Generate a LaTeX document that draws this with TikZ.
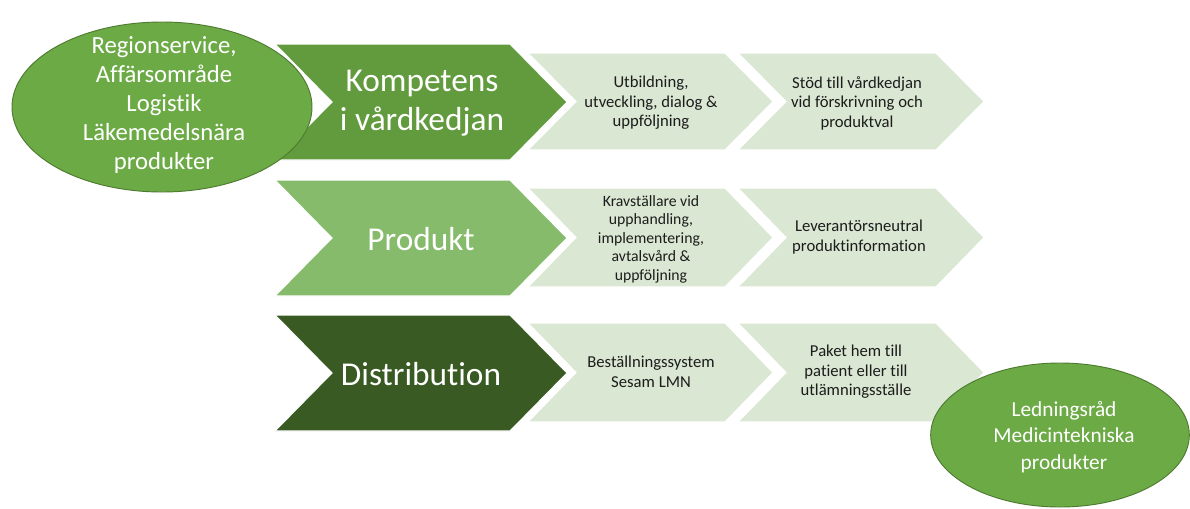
\documentclass[tikz,border=0pt]{standalone}
\usepackage{fontspec}
\setmainfont{Carlito}[Ligatures={NoCommon}]
\usetikzlibrary{shapes.geometric}
\definecolor{gA}{HTML}{629B3E}
\definecolor{gB}{HTML}{86BB6B}
\definecolor{gC}{HTML}{3A5A24}
\definecolor{gL}{HTML}{DAE7D3}
\definecolor{gE}{HTML}{6CAA46}
\definecolor{gEb}{HTML}{4E7B30}
\definecolor{txt}{HTML}{1C1C1C}
\newcommand\chevronpath[6]{%
  \fill[#6, draw=white, line width=0.8pt] (#1,#2) -- ({#4-#5},#2) -- (#4,{(#2+#3)/2}) -- ({#4-#5},#3) -- (#1,#3) -- ({#1+#5},{(#2+#3)/2}) -- cycle;}
\begin{document}
\begin{tikzpicture}[x=0.75pt,y=-0.75pt,
  bigtext/.style={text=white, align=center, font=\fontsize{25}{29}\selectfont, inner sep=0pt},
  smalltext/.style={text=txt, align=center, font=\fontsize{12.5}{14.6}\selectfont, inner sep=0pt},
  smallertext/.style={text=txt, align=center, font=\fontsize{11.8}{13.9}\selectfont, inner sep=0pt},
  ellbox/.style={ellipse, fill=gE, draw=gEb, line width=0.7pt, inner sep=0pt},
  elltext/.style={text=white, align=center, inner sep=0pt}]
\useasboundingbox (0,0) rectangle (1190,508);
% row 1
\chevronpath{275}{44}{160}{567}{57}{gA}
\chevronpath{528}{53}{150}{773}{48}{gL}
\chevronpath{738}{53}{150}{984}{48}{gL}
% row 2
\chevronpath{275}{180}{296}{567}{57}{gB}
\chevronpath{528}{188}{287}{773}{48}{gL}
\chevronpath{738}{188}{287}{984}{48}{gL}
% row 3
\chevronpath{275}{315}{431}{567}{57}{gC}
\chevronpath{528}{323}{422}{773}{48}{gL}
\chevronpath{738}{323}{422}{984}{48}{gL}
% texts
\node[bigtext] (k) at (422,103) {Kompetens\\i vårdkedjan};
\node[bigtext] (p) at (421,239) {Produkt};
\node[bigtext] (d) at (421,374) {Distribution};
\node[smalltext] (k1) at (651,103) {Utbildning,\\utveckling, dialog \&\\uppföljning};
\node[smalltext] (k2) at (857,103) {Stöd till vårdkedjan\\vid förskrivning och\\produktval};
\node[smallertext] (p1) at (651,239) {Kravställare vid\\upphandling,\\implementering,\\avtalsvård \&\\uppföljning};
\node[smalltext] (p2) at (859,237) {Leverantörsneutral\\produktinformation};
\node[smalltext] (d1) at (651,372) {Beställningssystem\\Sesam LMN};
\node[smalltext] (d2) at (856,372) {Paket hem till\\patient eller till\\utlämningsställe};
% ellipses
\node[ellbox, minimum width=225pt, minimum height=127.5pt] (src) at (162,107) {};
\node[elltext, font=\fontsize{18.5}{21.75}\selectfont] (srct) at (164,105) {Regionservice,\\Affärsområde\\Logistik\\Läkemedelsnära\\produkter};
\node[ellbox, minimum width=194pt, minimum height=108pt] (dst) at (1060,435) {};
\node[elltext, font=\fontsize{16}{20}\selectfont] (dstt) at (1064,437) {Ledningsråd\\Medicintekniska\\produkter};
\end{tikzpicture}
\end{document}
